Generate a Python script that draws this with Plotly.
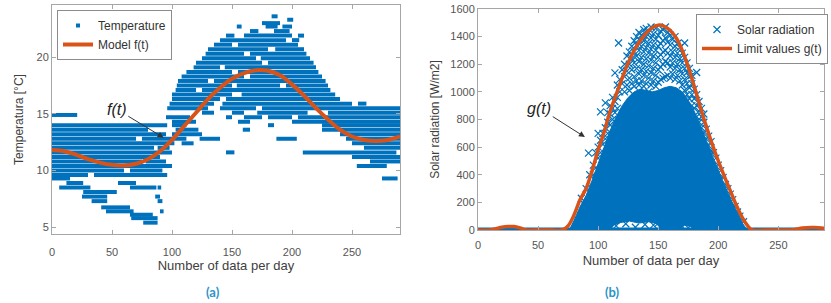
import plotly.graph_objects as go

BLUE = "#0072BD"
ORANGE = "#D95319"

# ---------------- (a) Temperature ----------------
# horizontal runs of quantized temperature readings: level, first sample, last sample
temp_seg_level = [
    23.6, 23.3, 23.0, 22.7, 22.7, 22.7, 22.3, 22.3, 21.9, 21.9, 21.9, 21.5, 21.5,
    21.1, 21.1, 20.7, 20.7, 20.3, 20.3, 19.9, 19.9, 19.5, 19.5, 19.1, 19.1, 18.7, 18.7,
    18.3, 18.3, 17.9, 17.9, 17.5, 17.5, 17.5, 17.1, 17.1, 16.7, 16.7, 16.3, 16.3,
    15.9, 15.9, 15.9, 15.5, 15.5, 15.5,
    15.1, 15.1, 15.1, 15.1, 14.9, 14.7, 14.7, 14.7, 14.7, 14.7,
    14.3, 14.3, 14.3, 14.0, 14.0, 14.0, 14.0, 13.6, 13.6, 13.6, 13.6,
    13.2, 13.2, 13.2, 12.8, 12.8, 12.8, 12.8, 12.8, 12.4, 12.4, 12.4,
    12.0, 12.0, 12.0, 11.6, 11.6, 11.6, 11.2, 11.2, 10.8, 10.8, 10.8,
    10.4, 10.4, 10.0, 10.0, 9.6, 9.6, 9.3, 9.3, 8.9, 8.9, 8.5, 8.5, 8.5,
    8.1, 7.7, 7.7, 7.3, 7.3, 6.75, 6.4, 6.4, 6.1, 5.8, 5.4,
]
temp_seg_start = [
    183, 196, 175, 154, 178, 192, 165, 185, 145, 160, 205, 140, 200,
    135, 155, 130, 186, 128, 165, 125, 174, 120, 180, 118, 144, 112, 155,
    108, 165, 105, 135, 104, 154, 195, 103, 125, 100, 158, 100, 145,
    98, 142, 255, 96, 140, 175,
    125, 150, 171, 230, 0, 95, 145, 160, 180, 205,
    100, 155, 200, 0, 100, 180, 225, 0, 103, 159, 225,
    0, 100, 240, 0, 75, 123, 187, 245, 0, 108, 250,
    0, 88, 260, 0, 145, 209, 0, 250, 0, 78, 265,
    0, 254, 0, 65, 0, 35, 0, 275, 12, 55, 6, 65, 88,
    26, 25, 86, 33, 88, 41, 45, 90, 65, 66, 76,
]
temp_seg_end = [
    188, 201, 190, 158, 188, 200, 172, 198, 152, 200, 210, 195, 206,
    150, 205, 180, 210, 160, 212, 170, 215, 175, 218, 140, 220, 150, 222,
    160, 225, 130, 228, 150, 190, 230, 120, 232, 150, 236, 140, 240,
    135, 250, 262, 130, 170, 290,
    135, 160, 213, 290, 21, 115, 150, 175, 200, 290,
    120, 165, 290, 96, 112, 185, 290, 80, 122, 165, 290,
    95, 125, 290, 70, 112, 140, 204, 290, 102, 118, 290,
    85, 98, 290, 100, 152, 287, 90, 290, 75, 95, 290,
    100, 279, 60, 92, 30, 96, 15, 288, 26, 70, 32, 87, 91,
    54, 46, 90, 46, 92, 65, 68, 93, 84, 88, 88,
]

# fitted model f(t)
model_t = [0, 10, 20, 30, 40, 50, 60, 70, 80, 90, 100, 110, 120, 130, 140, 150,
           160, 170, 180, 190, 200, 210, 220, 230, 240, 250, 260, 270, 280, 290]
model_f = [11.8, 11.7, 11.4, 11.0, 10.7, 10.5, 10.45, 10.6, 11.0, 11.7, 12.7, 13.9,
           15.1, 16.3, 17.3, 18.1, 18.6, 18.85, 18.8, 18.4, 17.6, 16.6, 15.5, 14.5,
           13.6, 13.0, 12.7, 12.6, 12.7, 13.0]

# ---------------- (b) Solar radiation ----------------
night_start = [0]
night_end = [290]

# dense core of the solar-radiation cloud (upper envelope, then lower envelope back)
core_up_t = [76, 80, 85, 90, 95, 100, 105, 110, 115, 120, 125, 130, 135, 140, 145, 150,
             155, 160, 165, 170, 175, 180, 185, 190, 195, 200, 205, 210, 215, 220, 224]
core_up_r = [0, 70, 170, 250, 360, 480, 600, 720, 820, 900, 960, 1000, 1020, 1010, 1000,
             1010, 1030, 1040, 1030, 1000, 940, 860, 760, 650, 540, 430, 330, 230, 140, 50, 0]
core_low_t = [224, 180, 177, 172, 167, 152, 149, 142, 134, 126, 119, 113, 110, 76]
core_low_r = [0, 0, 25, 35, 0, 0, 45, 60, 50, 65, 55, 35, 0, 0]

# scattered readings outside the dense core
sol_t = [
    82, 86, 88, 90, 92, 93,
    96, 96, 98, 98, 100, 100, 100, 102, 102, 102, 104, 104, 106, 106, 106,
    108, 108, 108, 110, 110, 110, 112, 112, 112, 114, 114, 114, 116, 116, 116, 117,
    118, 118, 120, 120, 122, 122, 122, 124, 124, 124, 126, 126, 126, 126,
    128, 128, 128, 128, 130, 130, 130, 130, 130, 132, 132, 132, 132, 132,
    134, 134, 134, 134, 134, 134, 136, 136, 136, 136, 136,
    138, 138, 138, 138, 138, 138, 140, 140, 140, 140, 140, 140,
    142, 142, 142, 142, 142, 142, 144, 144, 144, 144, 144, 144,
    146, 146, 146, 146, 146, 148, 148, 148, 148, 148, 148,
    150, 150, 150, 150, 150, 152, 152, 152, 152, 152,
    154, 154, 154, 154, 154, 156, 156, 156, 156, 156,
    158, 158, 158, 158, 158, 160, 160, 160, 160, 160,
    162, 162, 162, 162, 164, 164, 164, 164, 164, 166, 166, 166, 166,
    168, 168, 168, 168, 170, 170, 170, 170, 172, 172, 172, 172, 172,
    174, 174, 174, 174, 176, 176, 176, 176, 178, 178, 178, 178,
    180, 180, 180, 182, 182, 182, 182, 184, 184, 184, 186, 186, 186,
    188, 188, 188, 190, 190, 192, 192, 194, 194,
    196, 198, 200, 202, 204, 206, 208, 210, 212, 214, 216, 218, 221,
    115, 123, 131, 139, 146, 150, 170, 175,
]
sol_r = [
    80, 230, 190, 300, 557, 400,
    400, 470, 450, 560, 520, 600, 700, 560, 650, 855, 620, 700, 660, 740, 920,
    700, 780, 850, 760, 840, 900, 800, 880, 960, 850, 930, 1137, 880, 960, 1050, 1354,
    1000, 1090, 1060, 1160, 1000, 1110, 1200, 1050, 1150, 1260, 1010, 1100, 1200, 1290,
    1060, 1160, 1240, 1330, 1040, 1110, 1210, 1290, 1370, 1080, 1170, 1260, 1340, 1400,
    1050, 1130, 1220, 1300, 1380, 1430, 1080, 1160, 1250, 1330, 1410,
    1040, 1120, 1200, 1290, 1370, 1450, 1060, 1150, 1240, 1320, 1400, 1460,
    1000, 1100, 1190, 1280, 1350, 1430, 1050, 1140, 1230, 1310, 1390, 1470,
    1080, 1170, 1260, 1340, 1420, 1040, 1120, 1210, 1300, 1380, 1460,
    1070, 1160, 1250, 1330, 1410, 1090, 1180, 1270, 1350, 1440,
    1100, 1200, 1290, 1370, 1450, 1110, 1220, 1300, 1390, 1470,
    1120, 1210, 1280, 1360, 1430, 1100, 1180, 1260, 1340, 1410,
    1130, 1210, 1290, 1380, 1090, 1170, 1250, 1330, 1400, 1120, 1200, 1280, 1350,
    1080, 1160, 1240, 1320, 1050, 1130, 1210, 1280, 1010, 1090, 1170, 1250, 1354,
    980, 1060, 1140, 1210, 950, 1030, 1110, 1170, 900, 980, 1060, 1120,
    880, 950, 1020, 820, 900, 980, 1140, 780, 860, 930, 740, 820, 880,
    700, 780, 840, 660, 730, 610, 680, 570, 640,
    560, 520, 470, 430, 380, 330, 300, 260, 220, 170, 130, 100, 60,
    30, 45, 20, 40, 35, 50, 25, 15,
]

# limit values g(t)
limit_t = [0, 10, 15, 20, 25, 30, 35, 40, 50, 60, 70, 75, 80, 85, 90, 95, 100, 105, 110,
           115, 120, 125, 130, 135, 140, 145, 150, 155, 160, 165, 170, 175, 180, 185,
           190, 195, 200, 205, 210, 215, 220, 225, 228, 240, 260, 265, 270, 280, 290]
limit_g = [0, 0, 10, 20, 25, 25, 15, 0, 0, 0, 0, 30, 110, 220, 300, 430, 580, 710, 860,
           980, 1100, 1210, 1300, 1370, 1425, 1465, 1483, 1475, 1445, 1390, 1300, 1180,
           1040, 890, 750, 620, 500, 390, 285, 180, 90, 25, 0, 0, 0, 5, 15, 18, 10]

# ---------------- build figure ----------------
fig = go.Figure()

seg_x, seg_y = [], []
for lv, a, b in zip(temp_seg_level, temp_seg_start, temp_seg_end):
    seg_x += [a, b, None]
    seg_y += [lv, lv, None]

fig.add_trace(go.Scatter(x=seg_x, y=seg_y, mode="lines", line=dict(color=BLUE, width=4),
                         showlegend=False, hoverinfo="skip", xaxis="x", yaxis="y"))
fig.add_trace(go.Scatter(x=[None], y=[None], mode="markers", name="Temperature",
                         marker=dict(color=BLUE, size=4, symbol="square"),
                         xaxis="x", yaxis="y", legend="legend"))
fig.add_trace(go.Scatter(x=model_t, y=model_f, mode="lines", name="Model f(t)",
                         line=dict(color=ORANGE, width=4, shape="spline"),
                         xaxis="x", yaxis="y", legend="legend"))

# solar
fig.add_trace(go.Scatter(x=core_up_t + core_low_t, y=core_up_r + core_low_r, mode="lines",
                         fill="toself", fillcolor=BLUE, line=dict(color=BLUE, width=1),
                         showlegend=False, hoverinfo="skip", xaxis="x2", yaxis="y2"))
fig.add_trace(go.Scatter(x=night_start + night_end, y=[0, 0], mode="lines",
                         line=dict(color=BLUE, width=5), showlegend=False,
                         hoverinfo="skip", xaxis="x2", yaxis="y2"))
fig.add_trace(go.Scatter(x=sol_t, y=sol_r, mode="markers", name="Solar radiation",
                         marker=dict(symbol="x-thin", size=7,
                                     line=dict(color=BLUE, width=1.2), color=BLUE),
                         xaxis="x2", yaxis="y2", legend="legend2"))
fig.add_trace(go.Scatter(x=limit_t, y=limit_g, mode="lines", name="Limit values g(t)",
                         line=dict(color=ORANGE, width=3.5, shape="spline"),
                         xaxis="x2", yaxis="y2", legend="legend2"))

W, H = 831, 303


def px(x):
    return x / W


def py(y):
    return (H - y) / H


FONT = "Liberation Sans, Arial, sans-serif"
axis_common = dict(showline=True, linecolor="#a6a6a6", linewidth=1, mirror="allticks",
                   ticks="inside", ticklen=4, tickcolor="#a6a6a6", showgrid=False,
                   zeroline=False, automargin=False,
                   tickfont=dict(size=11, color="#555555", family=FONT))
title_font = dict(size=13, color="#404040", family=FONT)
ytitle_font = dict(size=12, color="#404040", family=FONT)

fig.update_layout(
    width=W, height=H, margin=dict(l=0, r=0, t=0, b=0),
    paper_bgcolor="white", plot_bgcolor="white",
    font=dict(family=FONT, color="#404040"),
    xaxis=dict(domain=[px(52), px(400)], range=[0, 290], tickvals=[0, 50, 100, 150, 200, 250],
               anchor="y", ticklabelstandoff=8,
               title=dict(text="Number of data per day", font=title_font, standoff=1),
               **axis_common),
    yaxis=dict(domain=[py(234), py(5)], range=[4.4, 24.6], tickvals=[5, 10, 15, 20],
               anchor="x", ticklabelstandoff=0,
               title=dict(text="Temperatura [°C]", font=ytitle_font, standoff=10),
               **axis_common),
    xaxis2=dict(domain=[px(478), px(824)], range=[0, 288], tickvals=[0, 50, 100, 150, 200, 250],
                anchor="y2", ticklabelstandoff=5,
                title=dict(text="Number of data per day", font=title_font, standoff=5),
                **axis_common),
    yaxis2=dict(domain=[py(230), py(9)], range=[0, 1600],
                tickvals=[0, 200, 400, 600, 800, 1000, 1200, 1400, 1600], anchor="x2",
                ticklabelstandoff=0,
                title=dict(text="Solar radiation [W/m2]", font=ytitle_font, standoff=8),
                **axis_common),
    legend=dict(x=px(57), y=py(10), xanchor="left", yanchor="top",
                bgcolor="white", bordercolor="#8c8c8c", borderwidth=1,
                font=dict(size=12, color="#333333", family=FONT), tracegroupgap=0),
    legend2=dict(x=px(696), y=py(14), xanchor="left", yanchor="top",
                 bgcolor="white", bordercolor="#8c8c8c", borderwidth=1,
                 font=dict(size=12, color="#333333", family=FONT), tracegroupgap=0),
    annotations=[
        dict(x=93, y=12.9, xref="x", yref="y", ax=54, ay=15.4, axref="x", ayref="y",
             text="<i>f(t)</i>", showarrow=True, arrowhead=2, arrowsize=1.2, arrowwidth=1,
             arrowcolor="#333333", font=dict(size=16, color="#222222", family=FONT)),
        dict(x=89, y=673, xref="x2", yref="y2", ax=51, ay=883, axref="x2", ayref="y2",
             text="<i>g(t)</i>", showarrow=True, arrowhead=2, arrowsize=1.2, arrowwidth=1,
             arrowcolor="#333333", font=dict(size=16, color="#222222", family=FONT)),
        dict(x=px(213), y=py(292), xref="paper", yref="paper", text="<b>(a)</b>",
             xanchor="center", yanchor="middle", showarrow=False,
             font=dict(size=13, color="#2a93c9", family="Lato, Open Sans, sans-serif")),
        dict(x=px(612), y=py(292), xref="paper", yref="paper", text="<b>(b)</b>",
             xanchor="center", yanchor="middle", showarrow=False,
             font=dict(size=13, color="#2a93c9", family="Lato, Open Sans, sans-serif")),
    ],
)

# remove the default page margin so the figure sits at the window origin
fig.write_html("out.html", config={"displayModeBar": False},
               post_script="document.body.style.margin='0';")
